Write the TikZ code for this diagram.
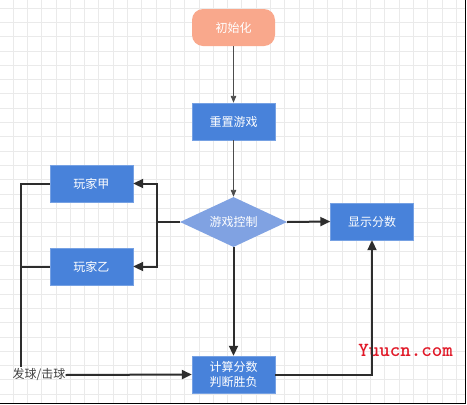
\documentclass[tikz,border=0pt]{standalone}
\usepackage{fontspec}
\setmainfont{Noto Sans CJK SC}
\usepackage{tikz}
\usetikzlibrary{shapes, arrows.meta, positioning}
\definecolor{boxblue}{RGB}{72, 130, 218}
\definecolor{diamblue}{RGB}{128, 162, 226}
\definecolor{salmon}{RGB}{249, 168, 140}
\definecolor{linedark}{RGB}{45, 45, 45}
\definecolor{gridgray}{RGB}{234, 234, 234}
\definecolor{markred}{RGB}{225, 25, 40}
\tikzset{
  basetext/.style={text=white, inner sep=0pt, font=\fontsize{12}{15}\selectfont},
  procbox/.style={basetext, draw=boxblue!75!white, fill=boxblue,
    minimum width=83pt, minimum height=37pt, align=center},
  startbox/.style={basetext, fill=salmon, rounded corners=11pt,
    minimum width=83pt, minimum height=37pt},
  decide/.style={basetext, diamond, aspect=2, fill=diamblue,
    minimum width=107pt, minimum height=50pt},
  thinlink/.style={draw=linedark!85, line width=0.9pt,
    -{Triangle[length=7pt, width=5.5pt]}},
  link/.style={draw=linedark, line width=2pt,
    -{Triangle[length=10pt, width=9pt]}},
  plainlink/.style={draw=linedark, line width=2pt},
}

\begin{document}
\begin{tikzpicture}[x=1pt, y=-1pt]
  \useasboundingbox (0,0) rectangle (467,405);
  \fill[white] (0,0) rectangle (467,405);

  % background grid
  \foreach \i in {0,...,31}
    \draw[gridgray, line width=0.7pt] (13+14.3*\i,0) -- (13+14.3*\i,403);
  \foreach \j in {0,...,27}
    \draw[gridgray, line width=0.7pt] (0,8+14.3*\j) -- (465,8+14.3*\j);
  \draw[black, line width=1.5pt] (465.5,0) -- (465.5,403.5) -- (0,403.5);

  % nodes
  \node[startbox] (init) at (233.5,27.5) {初始化};
  \node[procbox] (reset) at (233.5,121.5) {重置游戏};
  \node[decide] (ctrl) at (233.5,222) {游戏控制};
  \node[procbox] (show) at (372,221.5) {显示分数};
  \node[procbox] (playerA) at (91.5,183.5) {玩家甲};
  \node[procbox] (playerB) at (91.5,266.5) {玩家乙};
  \node[procbox] (score) at (233.5,374.5) {计算分数\\判断胜负};
  \node[inner sep=0pt, text=linedark!90, font=\fontsize{12}{15}\selectfont]
    (serve) at (39,375) {发球/击球};
  \node[inner sep=0pt, text=markred, font=\ttfamily\bfseries\fontsize{20}{22}\selectfont]
    (mark) at (405.5,350) {Yuucn.com};

  \coordinate (split) at (157,222);
  \coordinate (lane) at (21,367);

  % connectors
  \draw[thinlink] (init) -- (reset);
  \draw[thinlink] (reset) -- (ctrl);
  \draw[plainlink] (ctrl.west) -- (split);
  \draw[link] (split) |- (playerA.east);
  \draw[link] (split) |- (playerB.east);
  \draw[link] (ctrl.east) -- (show.west);
  \draw[link] (ctrl.south) -- (score.north);
  \draw[link] (score.east) -| (show.south);
  \draw[plainlink] (playerA.west) -| (lane);
  \draw[plainlink] (playerB.west) -- (playerB.west -| lane);
  \draw[link] (serve.east) -- (score.west);
\end{tikzpicture}
\end{document}
